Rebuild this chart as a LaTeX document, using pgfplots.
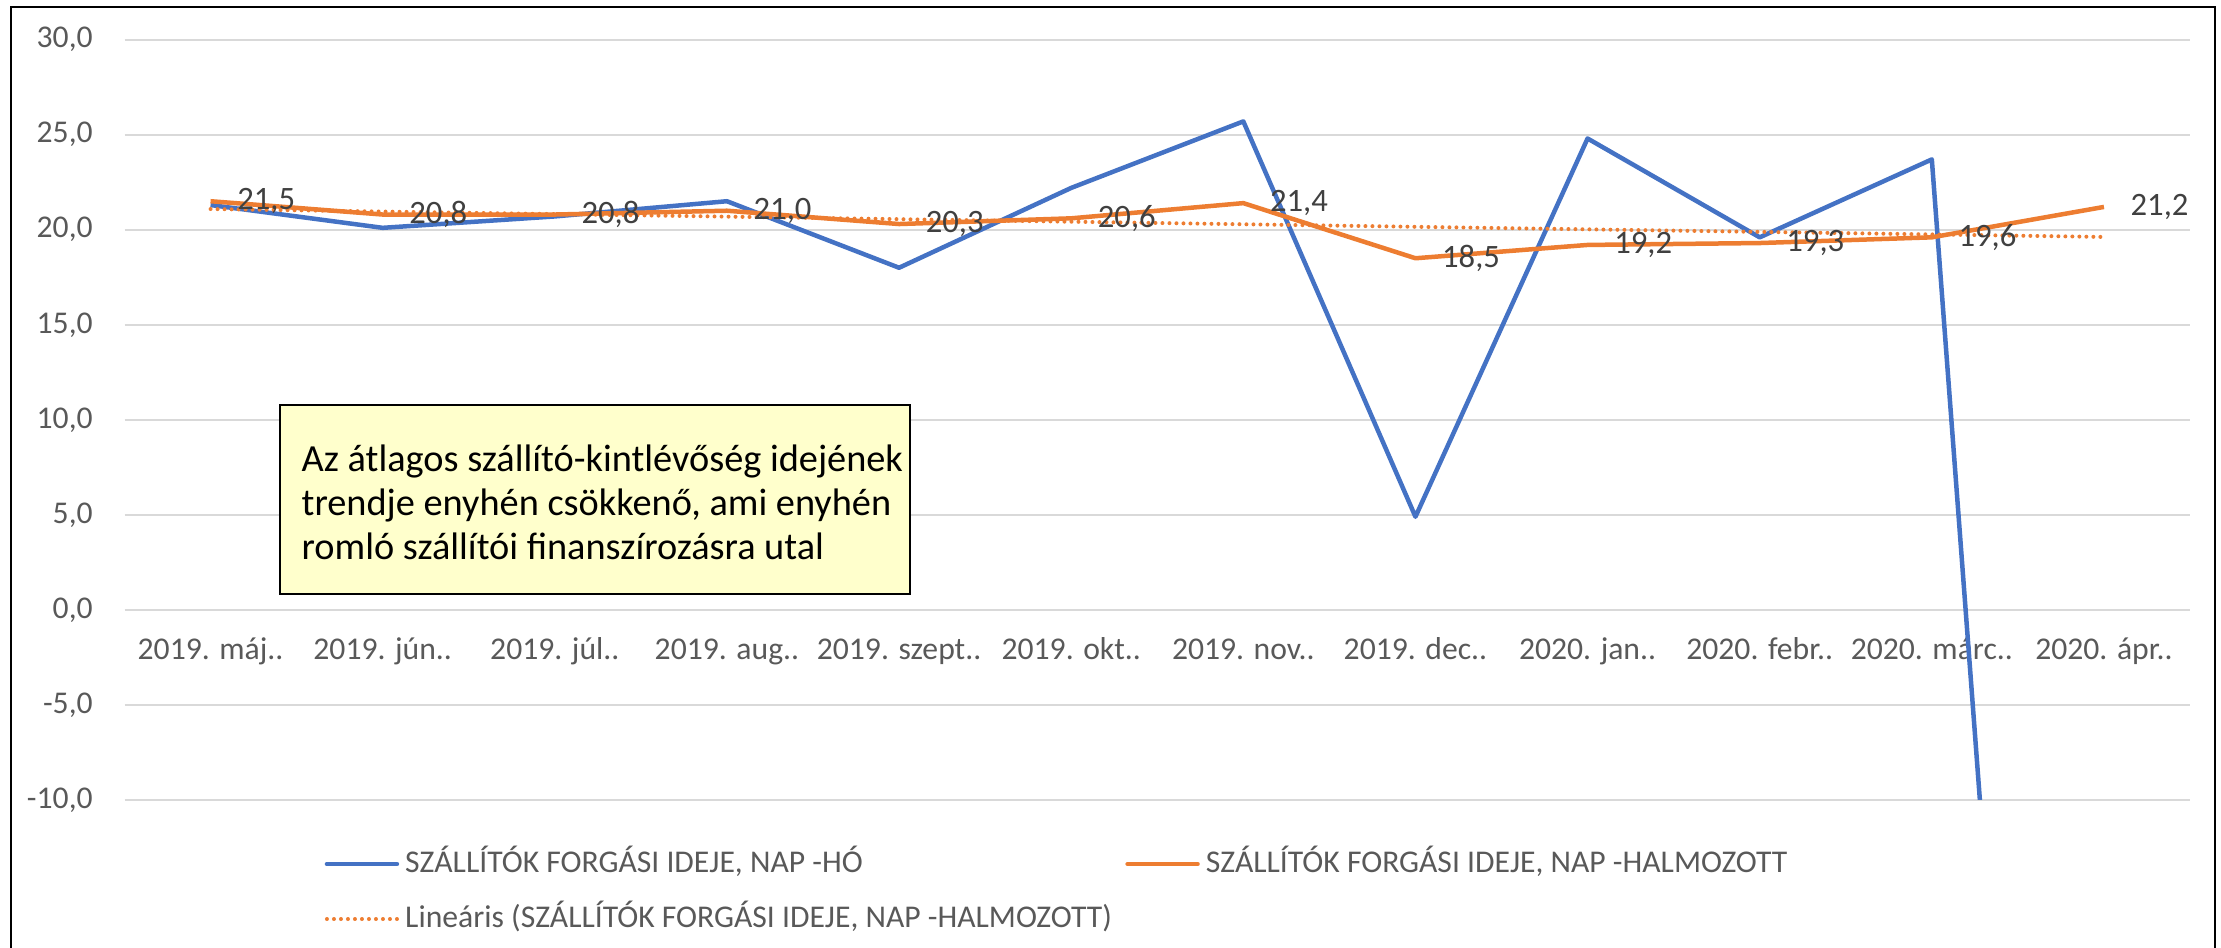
\documentclass[border=0pt]{standalone}
\usepackage{pgfplots}
\pgfplotsset{compat=1.18}
\usepackage{fontspec}
\setmainfont{Carlito}
\definecolor{cblue}{HTML}{4472C4}
\definecolor{corange}{HTML}{ED7D31}
\definecolor{cgrid}{HTML}{D9D9D9}
\definecolor{ctick}{HTML}{595959}
\definecolor{clabel}{HTML}{404040}
\definecolor{cbox}{HTML}{FFFFCC}
\pgfplotstableread{
x ho halm
0 21.3 21.5
1 20.1 20.8
2 20.7 20.8
3 21.5 21.0
4 18.0 20.3
5 22.2 20.6
6 25.7 21.4
7 4.9 18.5
8 24.8 19.2
9 19.6 19.3
10 23.7 19.6
11 -97.0 21.2
}\datatable
\begin{document}
\begin{tikzpicture}[font=\fontsize{9.5}{11.4}\selectfont]
\path[use as bounding box] (0pt,0pt) rectangle (666.3pt,284.1pt);
\begin{axis}[
  at={(37.35pt,44.1pt)}, anchor=south west,
  scale only axis, width=619.65pt, height=228.1pt,
  xmin=-0.5, xmax=11.5, ymin=-10, ymax=30,
  axis line style={draw=none},
  major tick length=0pt,
  xtick={0,...,11},
  xticklabels={2019. máj..,2019. jún..,2019. júl..,2019. aug..,2019. szept..,2019. okt..,2019. nov..,2019. dec..,2020. jan..,2020. febr..,2020. márc..,2020. ápr..},
  xticklabel style={anchor=base, yshift=42pt, text=ctick},
  ytick={-10,-5,...,30},
  ymajorgrids, grid style={cgrid, line width=0.55pt},
  yticklabel style={text=ctick, xshift=-6pt, /pgf/number format/.cd, fixed, fixed zerofill, precision=1, use comma, assume math mode=true},
  legend columns=2,
  legend cell align=left,
  legend style={draw=none, fill=none, at={(axis description cs:0.0966,-0.0636)}, anchor=north west,
    inner sep=0pt, row sep=7.5pt,
    nodes={inner sep=0pt, text=ctick, text height=7pt, text depth=2pt},
    /tikz/every odd column/.append style={column sep=1.8pt},
    /tikz/every even column/.append style={column sep=4pt}},
  legend image code/.code={\draw[#1, line cap=round] (0pt,0pt) -- (21pt,0pt);},
]
\addplot[cblue, line width=1.35pt, line join=round] table[x=x, y=ho] {\datatable};
\addlegendentry{SZÁLLÍTÓK FORGÁSI IDEJE, NAP -HÓ}
\addplot[corange, line width=1.35pt, line join=round,
  point meta=y,
  nodes near coords={\pgfmathprintnumber[fixed, fixed zerofill, precision=1, use comma, assume math mode=true]{\pgfplotspointmeta}},
  nodes near coords style={anchor=west, xshift=4pt, text=clabel, font=\fontsize{9.8}{11.4}\selectfont}
  ] table[x=x, y=halm] {\datatable};
\addlegendentry{SZÁLLÍTÓK FORGÁSI IDEJE, NAP -HALMOZOTT}
\addplot[corange, line width=1.2pt, line cap=round, dash pattern=on 0pt off 2.1pt] coordinates {(0,21.09) (11,19.62)};
\addlegendentry{Lineáris (SZÁLLÍTÓK FORGÁSI IDEJE, NAP -HALMOZOTT)}
\end{axis}
% text box
\draw[black, line width=0.6pt, fill=cbox] (84.1pt,106.0pt) rectangle (272.9pt,162.6pt);
\node[anchor=west, align=left, inner sep=0pt, font=\fontsize{11.5}{13.2}\selectfont] at (90.3pt,133.4pt)
  {Az átlagos szállító-kintlévőség idejének\\trendje enyhén csökkenő, ami enyhén\\romló szállítói finanszírozásra utal};
% outer frame
\draw[black, line width=0.7pt] (3.2pt,-2pt) -- (3.2pt,282pt) -- (664.5pt,282pt) -- (664.5pt,-2pt);
\end{tikzpicture}
\end{document}
